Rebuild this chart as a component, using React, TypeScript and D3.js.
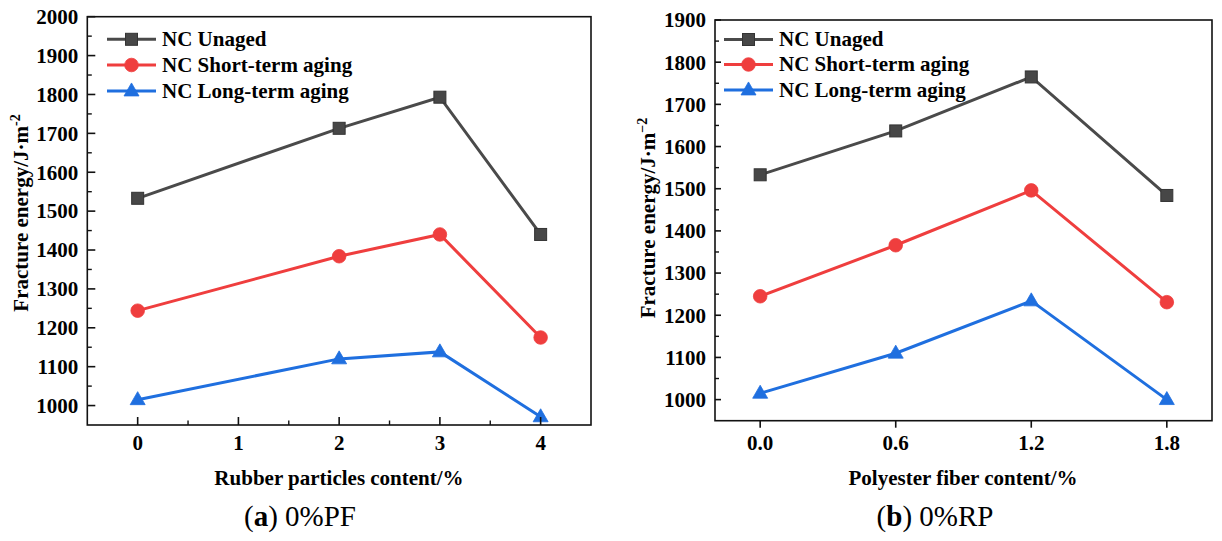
import React from "react";
import * as d3 from "d3";

const seriesNames = ["NC Unaged", "NC Short-term aging", "NC Long-term aging"];
const seriesColors = ["#4a4a4a", "#ef3e3e", "#1f6fdf"];
const markerFill = ["#474747", "#ef3e3e", "#1f6fdf"];
const markerShapes = ["square", "circle", "triangle"];

const leftX = [0, 2, 3, 4];
const leftUnaged = [1533, 1713, 1793, 1440];
const leftShort = [1244, 1384, 1440, 1175];
const leftLong = [1015, 1120, 1138, 971];
const leftXTicks = [0, 1, 2, 3, 4];
const leftYTicks = [1000, 1100, 1200, 1300, 1400, 1500, 1600, 1700, 1800, 1900, 2000];

const rightX = [0, 0.6, 1.2, 1.8];
const rightUnaged = [1533, 1637, 1765, 1484];
const rightShort = [1245, 1366, 1496, 1231];
const rightLong = [1015, 1110, 1234, 1000];
const rightXTicks = [0, 0.6, 1.2, 1.8];
const rightXTickLabels = ["0.0", "0.6", "1.2", "1.8"];
const rightYTicks = [1000, 1100, 1200, 1300, 1400, 1500, 1600, 1700, 1800, 1900];

const FONT = "Liberation Serif";
const FS = 21;

function Marker({ shape, x, y, fill, stroke }: any) {
  if (shape === "square") {
    return <rect x={x - 6} y={y - 6} width={12} height={12} fill={fill} stroke="#333" strokeWidth={1} />;
  }
  if (shape === "circle") {
    return <circle cx={x} cy={y} r={6.8} fill={fill} stroke={stroke} strokeWidth={0.8} />;
  }
  const s = 15;
  const h = 13;
  const p = `M${x},${y - h * 0.62} L${x + s / 2},${y + h * 0.38} L${x - s / 2},${y + h * 0.38} Z`;
  return <path d={p} fill={fill} stroke={stroke} strokeWidth={0.8} />;
}

function Panel(props: any) {
  const {
    left, right, top, bottom, xDomain, yDomain, xs, series, xTicks, xTickLabels, xMinor,
    yTicks, yMinorStep, xTickOut, yMajorLen, yMinorLen, xTitle, xTitleX, yTitleX, yTitleY,
    supText, caption, captionX, legendX, legendRows,
  } = props;
  const x = d3.scaleLinear().domain(xDomain).range([left, right]);
  const y = d3.scaleLinear().domain(yDomain).range([bottom, top]);
  const line = d3.line<[number, number]>().x((d) => x(d[0])).y((d) => y(d[1]));
  const yMinors: number[] = [];
  for (let v = yDomain[0]; v < yDomain[1]; v += yMinorStep) {
    if (!yTicks.includes(v) && v > yDomain[0]) yMinors.push(v);
  }
  return (
    <g>
      {series.map((vals: number[], i: number) => (
        <path key={"l" + i} d={line(xs.map((xv: number, j: number) => [xv, vals[j]]) as any) || ""}
          fill="none" stroke={seriesColors[i]} strokeWidth={3} />
      ))}
      {series.map((vals: number[], i: number) =>
        vals.map((v, j) => (
          <Marker key={"m" + i + "-" + j} shape={markerShapes[i]} x={x(xs[j])} y={y(v)}
            fill={markerFill[i]} stroke={seriesColors[i]} />
        ))
      )}
      <rect x={left} y={top} width={right - left} height={bottom - top} fill="none" stroke="#111" strokeWidth={1.6} />
      {yTicks.map((t: number) => (
        <g key={"yt" + t}>
          <line x1={left} x2={left + yMajorLen} y1={y(t)} y2={y(t)} stroke="#111" strokeWidth={1.6} />
          <text x={left - 9} y={y(t)} dy="0.35em" textAnchor="end" fontFamily={FONT} fontWeight="bold" fontSize={FS}>{t}</text>
        </g>
      ))}
      {yMinors.map((t) => (
        <line key={"ym" + t} x1={left} x2={left + yMinorLen} y1={y(t)} y2={y(t)} stroke="#111" strokeWidth={1.4} />
      ))}
      {xTicks.map((t: number, i: number) => (
        <g key={"xt" + t}>
          <line x1={x(t)} x2={x(t)} y1={bottom} y2={xTickOut ? bottom + 7 : bottom - 8} stroke="#111" strokeWidth={1.6} />
          <text x={x(t)} y={450} textAnchor="middle" fontFamily={FONT} fontWeight="bold" fontSize={FS}>{xTickLabels[i]}</text>
        </g>
      ))}
      {xMinor.map((t: number) => (
        <line key={"xm" + t} x1={x(t)} x2={x(t)} y1={bottom} y2={bottom - 4.5} stroke="#111" strokeWidth={1.4} />
      ))}
      <text x={xTitleX} y={485} textAnchor="middle" fontFamily={FONT} fontWeight="bold" fontSize={FS}>{xTitle}</text>
      <text transform={`translate(${yTitleX},${yTitleY}) rotate(-90)`} textAnchor="middle" fontFamily={FONT} fontWeight="bold" fontSize={FS}>
        Fracture energy/J·m<tspan dy={-8} fontSize={14}>{supText}</tspan>
      </text>
      <text x={captionX} y={526} textAnchor="middle" fontFamily={FONT} fontSize={29}>
        (<tspan fontWeight="bold">{caption[0]}</tspan>) {caption[1]}
      </text>
      {seriesNames.map((n, i) => (
        <g key={"lg" + i}>
          <line x1={legendX} x2={legendX + 49} y1={legendRows[i]} y2={legendRows[i]} stroke={seriesColors[i]} strokeWidth={3} />
          <Marker shape={markerShapes[i]} x={legendX + 24.5} y={legendRows[i]} fill={markerFill[i]} stroke={seriesColors[i]} />
          <text x={legendX + 55} y={legendRows[i]} dy="0.33em" fontFamily={FONT} fontWeight="bold" fontSize={FS}>{n}</text>
        </g>
      ))}
    </g>
  );
}

export default function App() {
  return (
    <svg width={1222} height={541} style={{ position: "absolute", left: 0, top: 0, background: "#fff" }}>
      <Panel
        left={87.3} right={591} top={16.7} bottom={425}
        xDomain={[-0.5, 4.5]} yDomain={[950, 2000]}
        xs={leftX} series={[leftUnaged, leftShort, leftLong]}
        xTicks={leftXTicks} xTickLabels={leftXTicks.map(String)} xMinor={[0.5, 1.5, 2.5, 3.5]}
        yTicks={leftYTicks} yMinorStep={50} xTickOut={false} yMajorLen={8} yMinorLen={4.5}
        xTitle="Rubber particles content/%" xTitleX={339} yTitleX={28} yTitleY={213}
        supText="-2" caption={["a", "0%PF"]} captionX={300}
        legendX={107} legendRows={[39.3, 65, 91]}
      />
      <Panel
        left={715} right={1212} top={20} bottom={420.7}
        xDomain={[-0.2, 2.0]} yDomain={[950, 1900]}
        xs={rightX} series={[rightUnaged, rightShort, rightLong]}
        xTicks={rightXTicks} xTickLabels={rightXTickLabels} xMinor={[]}
        yTicks={rightYTicks} yMinorStep={50} xTickOut={true} yMajorLen={6} yMinorLen={4}
        xTitle="Polyester fiber content/%" xTitleX={963} yTitleX={655} yTitleY={218}
        supText="−2" caption={["b", "0%RP"]} captionX={935}
        legendX={724} legendRows={[39.5, 64.5, 90]}
      />
    </svg>
  );
}
